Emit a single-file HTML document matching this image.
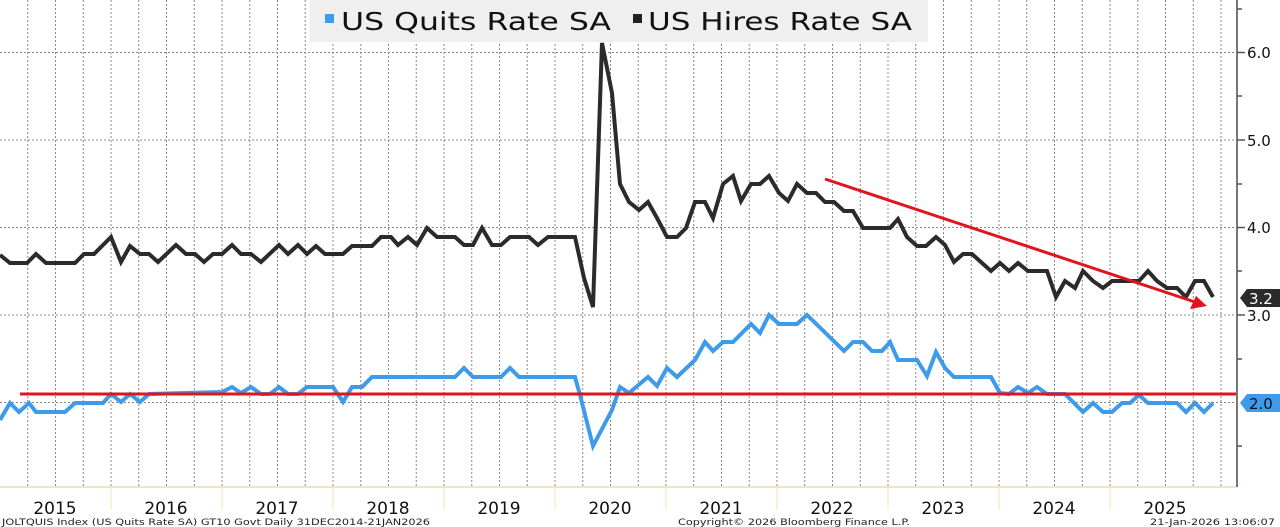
<!DOCTYPE html>
<html><head><meta charset="utf-8"><style>
html,body{margin:0;padding:0;background:#fff;}
svg{display:block;font-family:"DejaVu Sans","Liberation Sans",sans-serif;}
</style></head><body>
<svg width="1280" height="527" viewBox="0 0 1280 527" xmlns="http://www.w3.org/2000/svg">
<rect width="1280" height="527" fill="#fff"/>
<g stroke="#888" stroke-width="1" stroke-dasharray="2,2">
<line x1="27.75" y1="0" x2="27.75" y2="487"/><line x1="55.5" y1="0" x2="55.5" y2="487"/><line x1="83.25" y1="0" x2="83.25" y2="487"/><line x1="111" y1="0" x2="111" y2="487"/>
<line x1="138.75" y1="0" x2="138.75" y2="487"/><line x1="166.5" y1="0" x2="166.5" y2="487"/><line x1="194.25" y1="0" x2="194.25" y2="487"/><line x1="222" y1="0" x2="222" y2="487"/>
<line x1="249.75" y1="0" x2="249.75" y2="487"/><line x1="277.5" y1="0" x2="277.5" y2="487"/><line x1="305.25" y1="0" x2="305.25" y2="487"/><line x1="333" y1="0" x2="333" y2="487"/>
<line x1="360.75" y1="0" x2="360.75" y2="487"/><line x1="388.5" y1="0" x2="388.5" y2="487"/><line x1="416.25" y1="0" x2="416.25" y2="487"/><line x1="444" y1="0" x2="444" y2="487"/>
<line x1="471.75" y1="0" x2="471.75" y2="487"/><line x1="499.5" y1="0" x2="499.5" y2="487"/><line x1="527.25" y1="0" x2="527.25" y2="487"/><line x1="555" y1="0" x2="555" y2="487"/>
<line x1="582.75" y1="0" x2="582.75" y2="487"/><line x1="610.5" y1="0" x2="610.5" y2="487"/><line x1="638.25" y1="0" x2="638.25" y2="487"/><line x1="666" y1="0" x2="666" y2="487"/>
<line x1="693.75" y1="0" x2="693.75" y2="487"/><line x1="721.5" y1="0" x2="721.5" y2="487"/><line x1="749.25" y1="0" x2="749.25" y2="487"/><line x1="777" y1="0" x2="777" y2="487"/>
<line x1="804.75" y1="0" x2="804.75" y2="487"/><line x1="832.5" y1="0" x2="832.5" y2="487"/><line x1="860.25" y1="0" x2="860.25" y2="487"/><line x1="888" y1="0" x2="888" y2="487"/>
<line x1="915.75" y1="0" x2="915.75" y2="487"/><line x1="943.5" y1="0" x2="943.5" y2="487"/><line x1="971.25" y1="0" x2="971.25" y2="487"/><line x1="999" y1="0" x2="999" y2="487"/>
<line x1="1026.75" y1="0" x2="1026.75" y2="487"/><line x1="1054.5" y1="0" x2="1054.5" y2="487"/><line x1="1082.25" y1="0" x2="1082.25" y2="487"/><line x1="1110" y1="0" x2="1110" y2="487"/>
<line x1="1137.75" y1="0" x2="1137.75" y2="487"/><line x1="1165.5" y1="0" x2="1165.5" y2="487"/><line x1="1193.25" y1="0" x2="1193.25" y2="487"/><line x1="1221" y1="0" x2="1221" y2="487"/>
<line x1="0" y1="52.5" x2="1237" y2="52.5"/><line x1="0" y1="140" x2="1237" y2="140"/><line x1="0" y1="227.5" x2="1237" y2="227.5"/><line x1="0" y1="315" x2="1237" y2="315"/><line x1="0" y1="402.5" x2="1237" y2="402.5"/>
</g>
<rect x="310" y="0" width="618" height="42" fill="#efefef"/>
<rect x="325" y="14" width="9" height="9" fill="#3d9be9"/>
<text x="341" y="30" font-size="25" fill="#111" textLength="270" lengthAdjust="spacingAndGlyphs">US Quits Rate SA</text>
<rect x="633" y="14" width="9" height="9" fill="#222"/>
<text x="648" y="30" font-size="25" fill="#111" textLength="264" lengthAdjust="spacingAndGlyphs">US Hires Rate SA</text>
<line x1="0" y1="487" x2="1237" y2="487" stroke="#e8dfa0" stroke-width="1.5"/>
<g stroke="#f0e6b0" stroke-width="1"><line x1="111" y1="487" x2="111" y2="510"/><line x1="222" y1="487" x2="222" y2="510"/><line x1="333" y1="487" x2="333" y2="510"/><line x1="444" y1="487" x2="444" y2="510"/><line x1="555" y1="487" x2="555" y2="510"/><line x1="666" y1="487" x2="666" y2="510"/><line x1="777" y1="487" x2="777" y2="510"/><line x1="888" y1="487" x2="888" y2="510"/><line x1="999" y1="487" x2="999" y2="510"/><line x1="1110" y1="487" x2="1110" y2="510"/></g>
<polyline fill="none" stroke="#2b2b2b" stroke-width="4" points="0,255 10,263 27,263 36,254 46,263 75,263 84,254 94,254 111,237 121,262 130,246 140,254 149,254 158,262 176,245 186,254 195,254 204,262 213,254 222,254 232,245 241,254 251,254 261,262 279,245 288,254 298,245 307,254 316,246 325,254 343,254 352,246 372,246 381,237 391,237 398,245 408,237 417,245 427,228 437,237 455,237 464,245 473,245 482,228 492,245 501,245 510,237 529,237 538,245 548,237 575,237 584,278 593,307 602,43 612,93 620,184 629,202 639,210 648,202 657,218 667,237 677,237 686,228 695,202 705,202 713,218 723,184 733,176 741,201 751,184 760,184 769,176 779,193 788,201 797,184 807,193 816,193 825,202 834,202 844,211 853,211 863,228 890,228 898,219 907,237 917,246 926,246 936,237 945,245 954,262 963,254 972,254 982,263 991,271 1000,263 1009,271 1018,263 1028,271 1047,271 1056,297 1065,281 1075,288 1083,271 1093,281 1103,288 1112,281 1139,281 1148,271 1157,281 1167,288 1177,288 1186,297 1195,281 1204,281 1213,297"/>
<polyline fill="none" stroke="#3d9be9" stroke-width="4" points="0,420 10,403 19,412 29,403 36,412 65,412 75,403 103,403 111,394 121,402 130,394 140,402 149,394 222,392 232,387 241,393 251,387 261,394 270,394 279,387 288,394 298,394 307,387 333,387 343,402 352,387 362,387 372,377 455,377 464,368 473,377 501,377 510,368 519,377 575,377 580,395 593,446 612,410 620,387 629,393 648,377 657,386 667,368 677,377 695,360 705,342 713,351 723,342 733,342 751,324 760,333 769,315 779,324 797,324 807,315 844,351 853,342 863,342 872,351 882,351 890,342 898,360 917,360 927,376 936,352 945,368 954,377 991,377 1000,393 1009,394 1018,387 1028,393 1037,387 1047,394 1065,394 1083,412 1093,403 1103,412 1112,412 1122,403 1130,403 1139,395 1148,403 1177,403 1186,412 1195,403 1204,412 1213,403"/>
<line x1="20" y1="394" x2="1237" y2="394" stroke="#e0141e" stroke-width="3"/>
<line x1="825" y1="179" x2="1195" y2="302" stroke="#e0141e" stroke-width="3"/>
<polygon points="1207,306 1190,309 1196,296" fill="#e0141e"/>
<line x1="1237" y1="0" x2="1237" y2="487" stroke="#777" stroke-width="2"/>
<g stroke="#555" stroke-width="1.5"><line x1="1237" y1="9" x2="1242" y2="9"/><line x1="1237" y1="52.5" x2="1245" y2="52.5"/><line x1="1237" y1="96" x2="1242" y2="96"/><line x1="1237" y1="140" x2="1245" y2="140"/><line x1="1237" y1="184" x2="1242" y2="184"/><line x1="1237" y1="227.5" x2="1245" y2="227.5"/><line x1="1237" y1="271" x2="1242" y2="271"/><line x1="1237" y1="315" x2="1245" y2="315"/><line x1="1237" y1="359" x2="1242" y2="359"/><line x1="1237" y1="446" x2="1242" y2="446"/></g>
<g font-size="15" fill="#111"><text x="1247" y="58">6.0</text><text x="1247" y="146">5.0</text><text x="1247" y="233">4.0</text><text x="1247" y="321">3.0</text></g>
<polygon points="1240,298 1247,289 1280,289 1280,307 1247,307" fill="#2b2b2b"/>
<text x="1249" y="304" font-size="15" fill="#fff">3.2</text>
<polygon points="1240,403 1247,394 1280,394 1280,412 1247,412" fill="#3d9be9"/>
<text x="1249" y="409" font-size="15" fill="#111">2.0</text>
<g font-size="17" fill="#111" text-anchor="middle"><text x="55" y="514">2015</text><text x="166" y="514">2016</text><text x="277" y="514">2017</text><text x="388" y="514">2018</text><text x="499" y="514">2019</text><text x="610" y="514">2020</text><text x="721" y="514">2021</text><text x="832" y="514">2022</text><text x="943" y="514">2023</text><text x="1054" y="514">2024</text><text x="1165" y="514">2025</text></g>
<g font-size="9" fill="#222"><text x="2" y="525" textLength="428" lengthAdjust="spacingAndGlyphs">JOLTQUIS Index (US Quits Rate SA) GT10  Govt Daily 31DEC2014-21JAN2026</text><text x="678" y="525" textLength="232" lengthAdjust="spacingAndGlyphs">Copyright© 2026 Bloomberg Finance L.P.</text><text x="1150" y="525" textLength="125" lengthAdjust="spacingAndGlyphs">21-Jan-2026 13:06:07</text></g>
</svg>
</body></html>
